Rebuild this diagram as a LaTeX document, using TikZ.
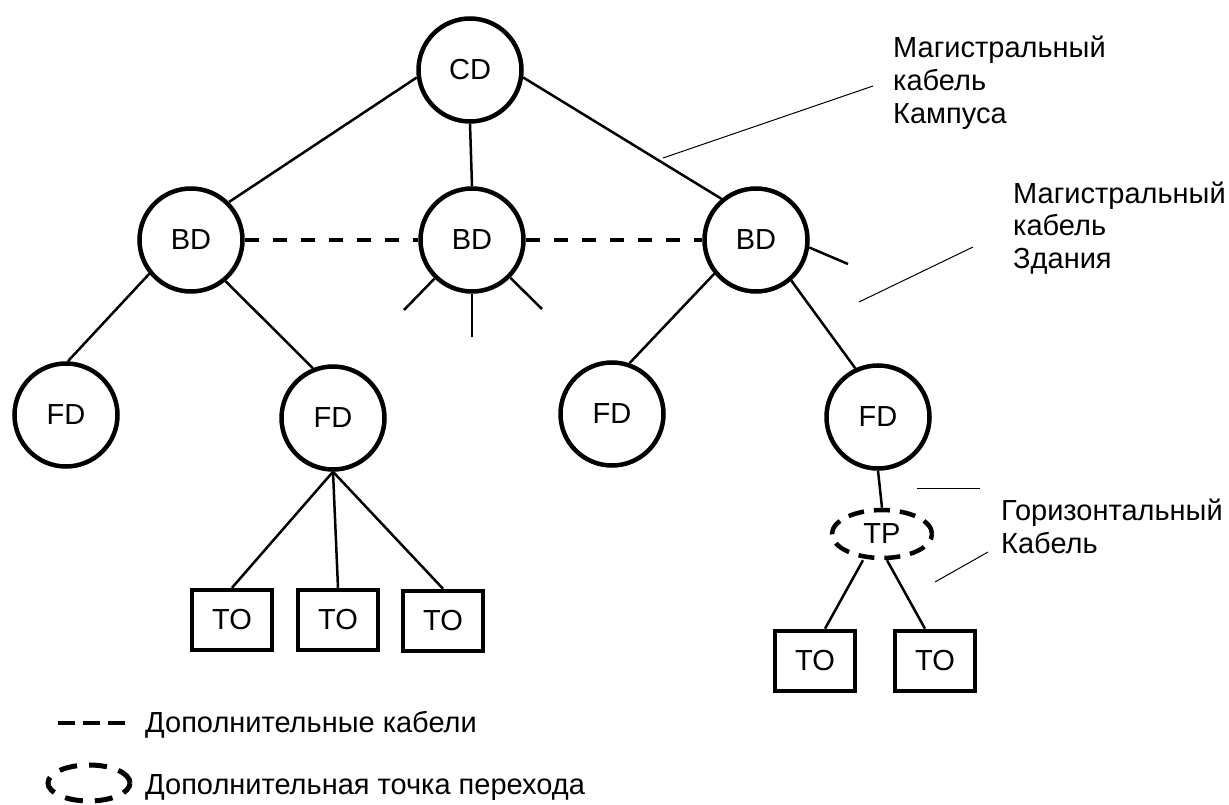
\documentclass[tikz,border=0pt]{standalone}
\usepackage{fontspec}
\setmainfont{Liberation Sans}
\usetikzlibrary{shapes.geometric}
\begin{document}
\begin{tikzpicture}[x=1pt,y=-1pt,
  txt/.style={font=\fontsize{29}{33}\selectfont},
  hub/.style={circle,draw,line width=4.5pt,minimum size=103pt,inner sep=0pt,txt},
  tobox/.style={draw,line width=4.5pt,minimum width=80pt,minimum height=60pt,inner sep=0pt,txt},
  tpnode/.style={ellipse,draw,line width=4.5pt,dash pattern=on 16pt off 10pt,minimum width=100pt,minimum height=48pt,inner sep=0pt,txt},
  link/.style={line width=2.5pt},
  thinline/.style={line width=1pt},
  dashlink/.style={line width=3.5pt,dash pattern=on 14pt off 14pt},
  lbl/.style={txt,align=left,anchor=base west,inner sep=0pt}]
\useasboundingbox (0,0) rectangle (1229,805);

% hubs
\node[hub] (cd)  at (470,70)  {CD};
\node[hub] (bdl) at (191,240) {BD};
\node[hub] (bdm) at (472,240) {BD};
\node[hub] (bdr) at (756,240) {BD};
\node[hub] (fd1) at (66,415)  {FD};
\node[hub] (fd2) at (333,418) {FD};
\node[hub] (fd3) at (612,414) {FD};
\node[hub] (fd4) at (878,417) {FD};

% transition point
\node[tpnode] (tp) at (882,534) {TP};

% outlets
\node[tobox] (to1) at (232,620) {TO};
\node[tobox] (to2) at (338,620) {TO};
\node[tobox] (to3) at (443,621) {TO};
\node[tobox] (to4) at (815,661) {TO};
\node[tobox] (to5) at (935,661) {TO};

% backbone links
\draw[link] (cd.-172) -- (bdl.45);
\draw[link] (cd.south) -- (bdm.north);
\draw[link] (cd.-8) -- (bdr.130);
\draw[link] (bdl.-141) -- (fd1.88);
\draw[link] (bdl.-50) -- (fd2.112);
\draw[link] (bdr.-141) -- (fd3.71);
\draw[link] (bdr.-49) -- (fd4.115);

% additional cables
\draw[dashlink] (bdl.east) -- (bdm.west);
\draw[dashlink] (bdm.east) -- (bdr.west);

% stubs
\coordinate (s1) at (404,310);
\coordinate (s2) at (472,337);
\coordinate (s3) at (542,309);
\coordinate (s4) at (848,264);
\draw[link] (bdm) -- (s1);
\draw[link] (bdm) -- (s2);
\draw[link] (bdm) -- (s3);
\draw[link] (bdr.-8) -- (s4);

% horizontal links
\draw[link] (fd2.south) -- (to1.north);
\draw[link] (fd2.south) -- (to2.north);
\draw[link] (fd2.south) -- (to3.north);
\draw[link] (fd4.south) -- (tp.north);
\draw[link] ([xshift=-19pt]tp.south) -- ([xshift=10pt]to4.north);
\draw[link] ([xshift=5pt]tp.south) -- ([xshift=-10pt]to5.north);

% labels (base anchor = last line's baseline)
\node[lbl] (l1) at (893,124) {Магистральный\\кабель\\Кампуса};
\node[lbl] (l2) at (1013,269) {Магистральный\\кабель\\Здания};
\node[lbl] (l3) at (1001,553) {Горизонтальный\\Кабель};

% leader lines
\coordinate (a1) at (663,158); \coordinate (b1) at (873,86);
\coordinate (a2) at (859,302); \coordinate (b2) at (973,247);
\coordinate (a3) at (917,488); \coordinate (b3) at (980,488);
\coordinate (a4) at (935,582); \coordinate (b4) at (988,552);
\draw[thinline] (a1) -- (b1);
\draw[thinline] (a2) -- (b2);
\draw[thinline] (a3) -- (b3);
\draw[thinline] (a4) -- (b4);

% legend
\coordinate (d1) at (58,723); \coordinate (d2) at (125,723);
\draw[line width=3.5pt,dash pattern=on 17pt off 8pt] (d1) -- (d2);
\node[lbl] (lg1) at (145,732) {Дополнительные кабели};
\node[ellipse,draw,line width=5pt,dash pattern=on 18pt off 12pt,minimum width=82pt,minimum height=36pt,inner sep=0pt] (lge) at (89,783) {};
\node[lbl] (lg2) at (145,794) {Дополнительная точка перехода};
\end{tikzpicture}
\end{document}
